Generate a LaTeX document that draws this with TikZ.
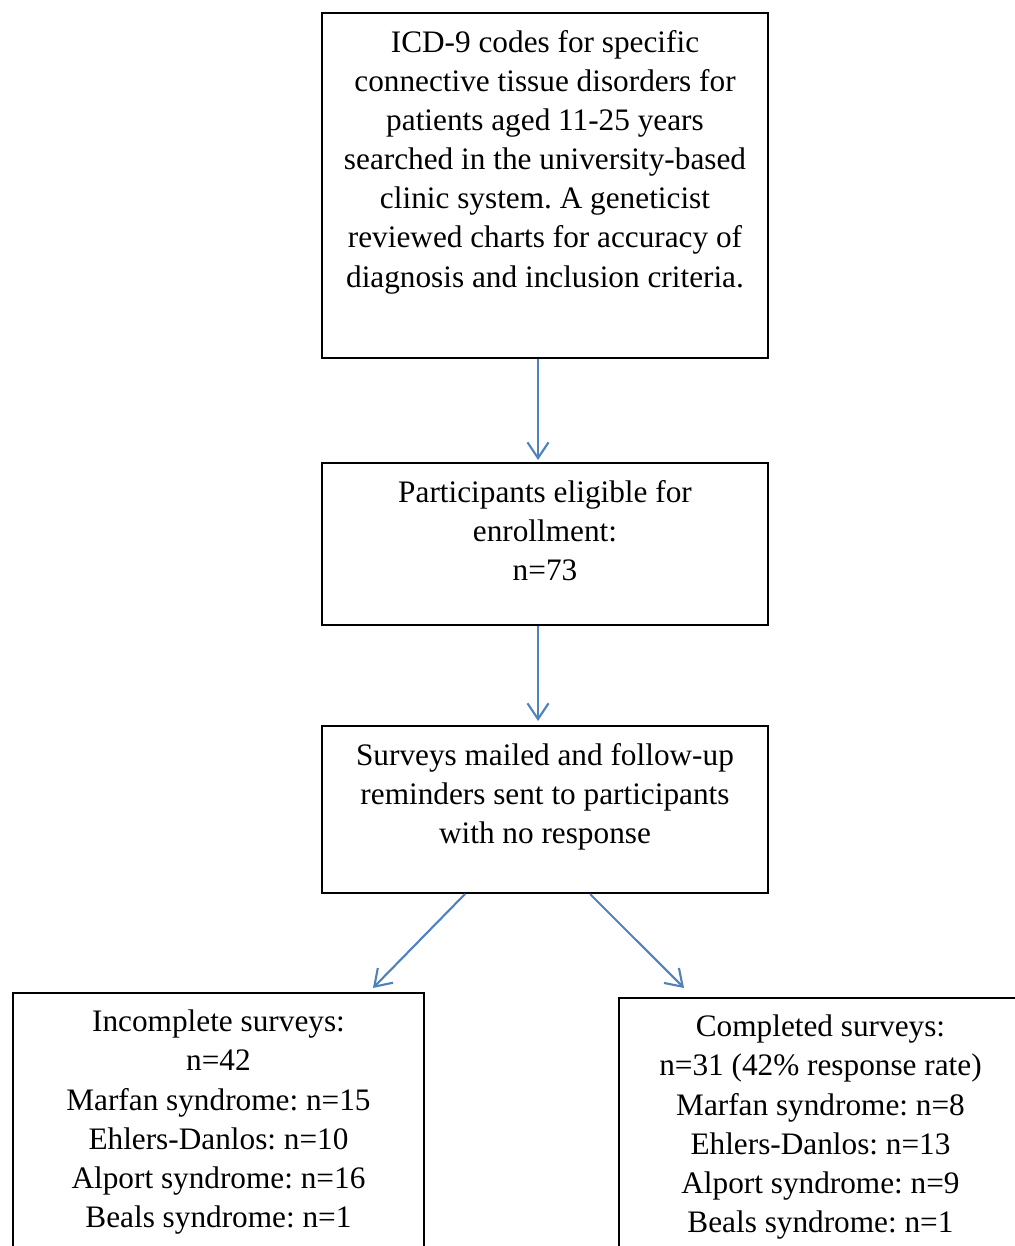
\documentclass[tikz,border=0pt]{standalone}
\usepackage{fontspec}
\setmainfont{Liberation Serif}
\usepackage{tikz}
\usetikzlibrary{
  arrows.meta,
  positioning
}
\definecolor{flowblue}{RGB}{79,129,189}
\newlength{\px}
\setlength{\px}{0.02cm}
\frenchspacing
% top-aligned box text: width, height, lines
\newcommand{\boxtext}[3]{\parbox[c][#2\px][t]{#1\px}{\centering\vspace*{17\px}#3}}

\begin{document}
\begin{tikzpicture}[x=0.02cm, y=-0.02cm,
    every node/.style={font=\fontsize{17.8pt}{22.3pt}\selectfont},
    stagebox/.style={draw=black, line width=1.13pt, inner sep=0pt},
    flow/.style={draw=flowblue, line width=1.2pt, -{Straight Barb[length=9pt, width=12pt]}}]
            \useasboundingbox (0,0) rectangle (1014,1246);

            % Search box
            \node[stagebox] (search) at (545,185.5) {\boxtext{446}{345}{ICD-9 codes for specific\\connective tissue disorders for\\patients aged 11-25 years\\searched in the university-based\\clinic system. A geneticist\\reviewed charts for accuracy of\\diagnosis and inclusion criteria.}};

            % Eligible box
            \node[stagebox] (eligible) at (545,544) {\boxtext{446}{162}{Participants eligible for\\enrollment:\\n=73}};

            % Mailing box
            \node[stagebox] (mailed) at (545,809.5) {\boxtext{446}{167}{Surveys mailed and follow-up\\reminders sent to participants\\with no response}};

            % Outcome boxes (run off the page)
            \node[stagebox, anchor=north west] (incomplete) at (12,992) {\boxtext{411}{300}{Incomplete surveys:\\n=42\\Marfan syndrome: n=15\\Ehlers-Danlos: n=10\\Alport syndrome: n=16\\Beals syndrome: n=1}};
            \node[stagebox, anchor=north west] (completed) at (618,997) {\boxtext{403}{300}{Completed surveys:\\n=31 (42\% response rate)\\Marfan syndrome: n=8\\Ehlers-Danlos: n=13\\Alport syndrome: n=9\\Beals syndrome: n=1}};

            % Arrows
            \draw[flow] ([xshift=-0.14cm]search.south) -- ([xshift=-0.14cm, yshift=0.04cm]eligible.north);
            \draw[flow] ([xshift=-0.14cm]eligible.south) -- ([xshift=-0.14cm, yshift=0.08cm]mailed.north);
            \draw[flow] ([xshift=-1.6cm]mailed.south) -- ([xshift=3.09cm, yshift=0.08cm]incomplete.north);
            \draw[flow] ([xshift=0.9cm]mailed.south) -- ([xshift=-2.73cm, yshift=0.18cm]completed.north);
        \end{tikzpicture}
\end{document}
